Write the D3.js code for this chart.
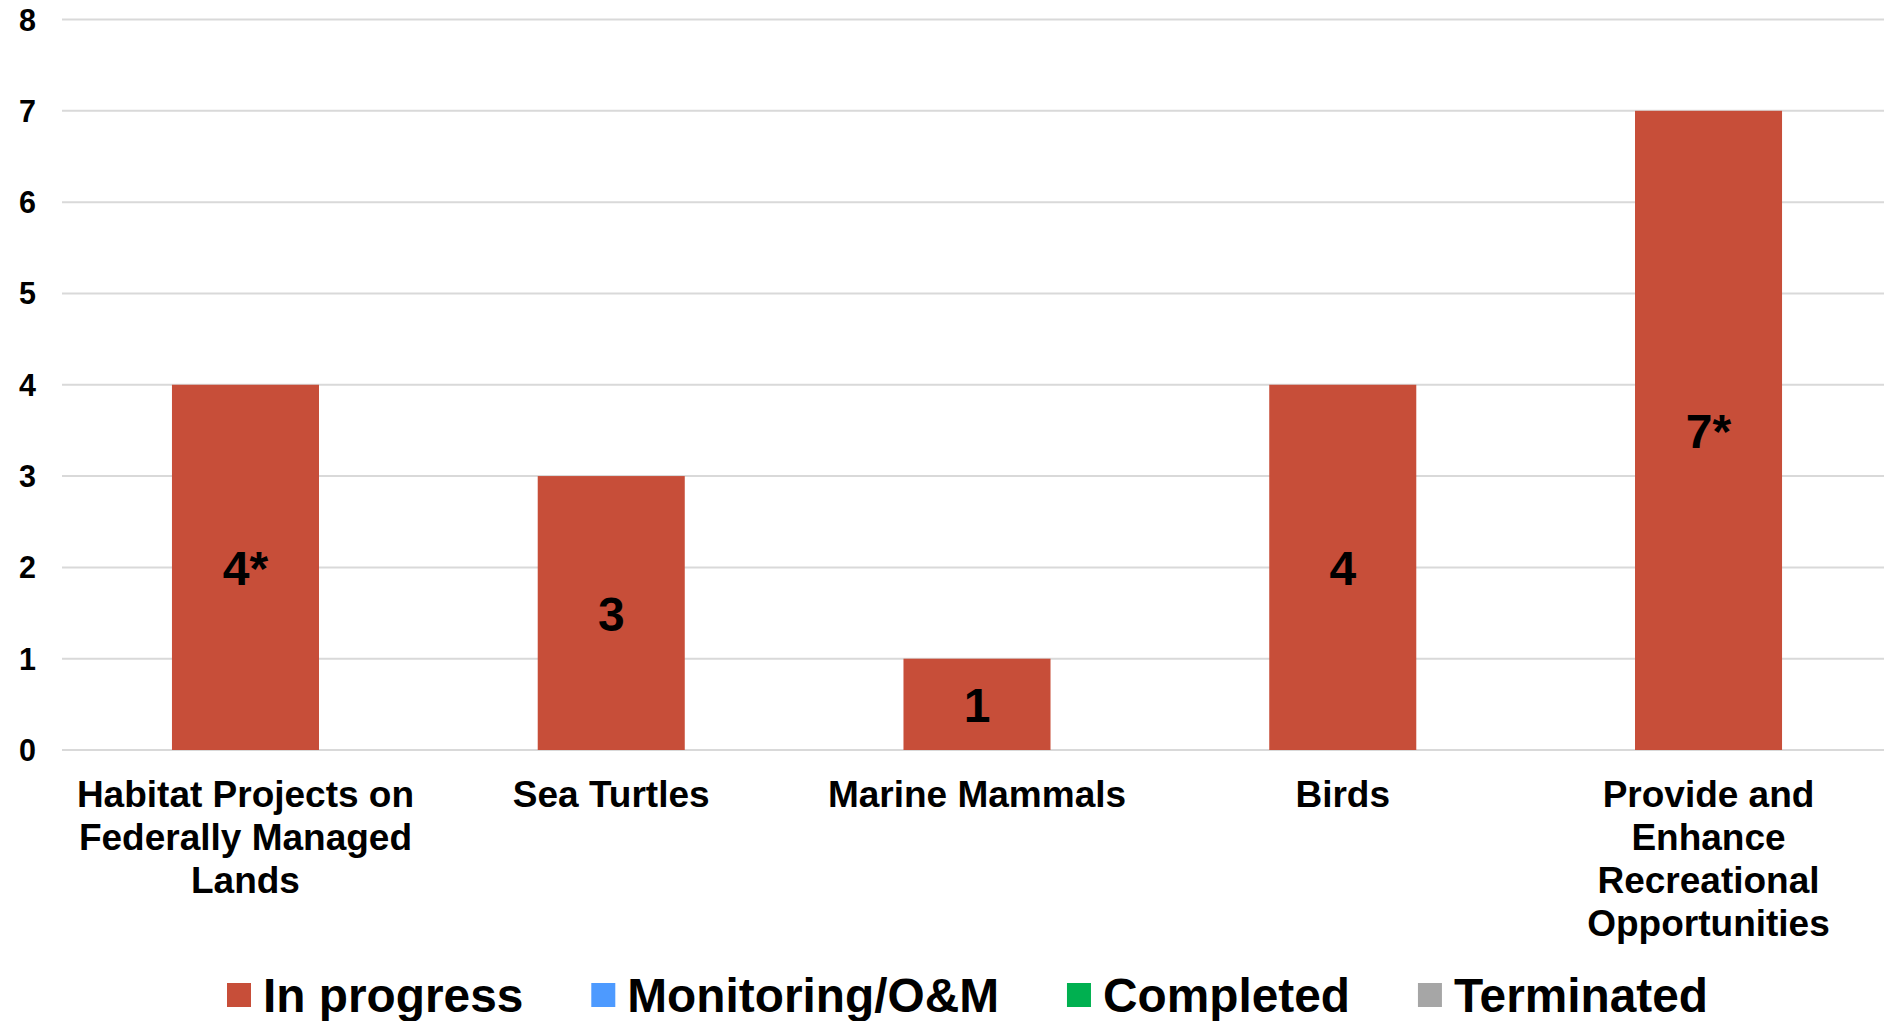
<!DOCTYPE html>
<html>
<head>
<meta charset="utf-8">
<script src="https://cdn.jsdelivr.net/npm/d3@7"></script>
<style>
  html, body { margin: 0; padding: 0; background: #fff; }
  svg { display: block; font-family: "Liberation Sans", Arial, sans-serif; font-weight: bold; }
</style>
</head>
<body>
<svg id="chart" width="1884" height="1021"></svg>
<script>
// ---- data ----
const categories = [
  "Habitat Projects on\nFederally Managed\nLands",
  "Sea Turtles",
  "Marine Mammals",
  "Birds",
  "Provide and\nEnhance\nRecreational\nOpportunities"
];
const seriesNames = ["In progress", "Monitoring/O&M", "Completed", "Terminated"];
const inProgress = [4, 3, 1, 4, 7];
const monitoring = [0, 0, 0, 0, 0];
const completed  = [0, 0, 0, 0, 0];
const terminated = [0, 0, 0, 0, 0];
const dataLabels = ["4*", "3", "1", "4", "7*"];
const yTicks = [0, 1, 2, 3, 4, 5, 6, 7, 8];
const seriesColors = ["#C74E39", "#4D9AFF", "#00B050", "#A6A6A6"];

// ---- chart ----
const svg = d3.select("#chart");
const W = 1884, H = 1021;

const x = d3.scaleBand()
  .domain(categories)
  .range([62.6, 1891.4])
  .paddingInner(0.598)
  .paddingOuter(0.299);

const y = d3.scaleLinear().domain([0, 8]).range([750, 19.5]);

// gridlines
svg.append("g").selectAll("line").data(yTicks).join("line")
  .attr("x1", 62).attr("x2", W)
  .attr("y1", d => y(d)).attr("y2", d => y(d))
  .attr("stroke", "#D9D9D9").attr("stroke-width", 2);

// y tick labels
svg.append("g").selectAll("text").data(yTicks).join("text")
  .attr("x", 36).attr("y", d => y(d) + 11)
  .attr("text-anchor", "end")
  .attr("font-size", 30.5).attr("fill", "#000")
  .text(d => d);

// stacked bars
const rows = categories.map((c, i) => ({
  cat: c,
  "In progress": inProgress[i],
  "Monitoring/O&M": monitoring[i],
  "Completed": completed[i],
  "Terminated": terminated[i]
}));
const stacked = d3.stack().keys(seriesNames)(rows);
const color = d3.scaleOrdinal().domain(seriesNames).range(seriesColors);

const layers = svg.append("g").selectAll("g").data(stacked).join("g")
  .attr("fill", d => color(d.key));
layers.selectAll("rect").data(d => d.filter(p => p[1] - p[0] > 0)).join("rect")
  .attr("x", d => x(d.data.cat))
  .attr("width", x.bandwidth())
  .attr("y", d => y(d[1]))
  .attr("height", d => y(d[0]) - y(d[1]));

// data labels (In progress series)
svg.append("g").selectAll("text").data(stacked[0]).join("text")
  .attr("x", d => x(d.data.cat) + x.bandwidth() / 2)
  .attr("y", d => (y(d[0]) + y(d[1])) / 2 + 17.5)
  .attr("text-anchor", "middle")
  .attr("font-size", 48).attr("fill", "#000")
  .text((d, i) => dataLabels[i]);

// category labels
const catG = svg.append("g").selectAll("text").data(categories).join("text")
  .attr("x", d => x(d) + x.bandwidth() / 2)
  .attr("y", 807)
  .attr("text-anchor", "middle")
  .attr("font-size", 37).attr("fill", "#000");
catG.selectAll("tspan").data(d => d.split("\n").map(t => ({ t, c: d }))).join("tspan")
  .attr("x", d => x(d.c) + x.bandwidth() / 2)
  .attr("dy", (d, i) => i === 0 ? 0 : 43)
  .text(d => d.t);

// legend
const legend = svg.append("g");
let lx = 227;
seriesNames.forEach((name, i) => {
  const g = legend.append("g");
  g.append("rect")
    .attr("x", lx).attr("y", 983)
    .attr("width", 24).attr("height", 24)
    .attr("fill", seriesColors[i]);
  const t = g.append("text")
    .attr("x", lx + 36).attr("y", 1011.5)
    .attr("font-size", 47.8).attr("fill", "#000")
    .text(name);
  const w = t.node().getComputedTextLength();
  lx = lx + 36 + w + 68;
});
</script>
</body>
</html>
